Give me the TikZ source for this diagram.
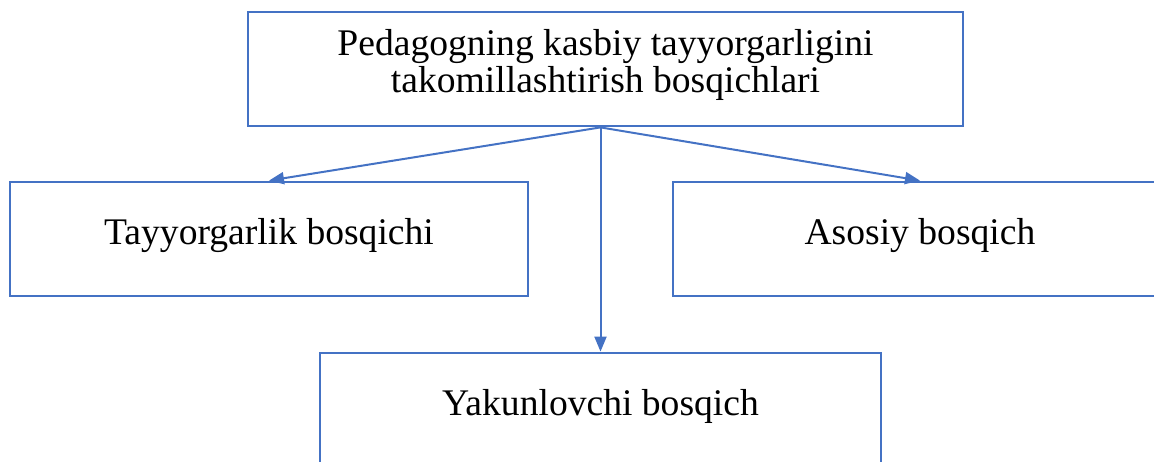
\documentclass[tikz,border=0pt]{standalone}
\usepackage{fontspec}
\setmainfont{Liberation Serif}
\usetikzlibrary{arrows.meta}
\definecolor{wordblue}{HTML}{4472C4}

\begin{document}
\begin{tikzpicture}[x=1pt,y=-1pt,
  stagebox/.style={draw=wordblue,line width=2.8pt,rectangle,minimum height=114pt,
    inner sep=0pt,align=center,text depth=16pt,font=\fontsize{37.6}{37}\selectfont},
  flow/.style={draw=wordblue,line width=2pt,-{Triangle[length=15pt,width=12pt]}}]
\useasboundingbox (0,0) rectangle (1154,462);
% stages
\node(stages) [stagebox,minimum width=715pt] at (605.5,69) {Pedagogning kasbiy tayyorgarligini\\takomillashtirish bosqichlari};
\node(prep) [stagebox,minimum width=518pt] at (269,239) {Tayyorgarlik bosqichi};
\node(main) [stagebox,minimum width=494pt] at (920,239) {Asosiy bosqich};
\node(final) [stagebox,minimum width=561pt] at (600.5,410) {Yakunlovchi bosqich};

\coordinate(fork) at (stages.south -| final.north);
\draw[flow] (fork) to (prep.north);
\draw[flow] (fork) to (main.north);
\draw[flow] (fork) to (final.north);
\end{tikzpicture}
\end{document}
